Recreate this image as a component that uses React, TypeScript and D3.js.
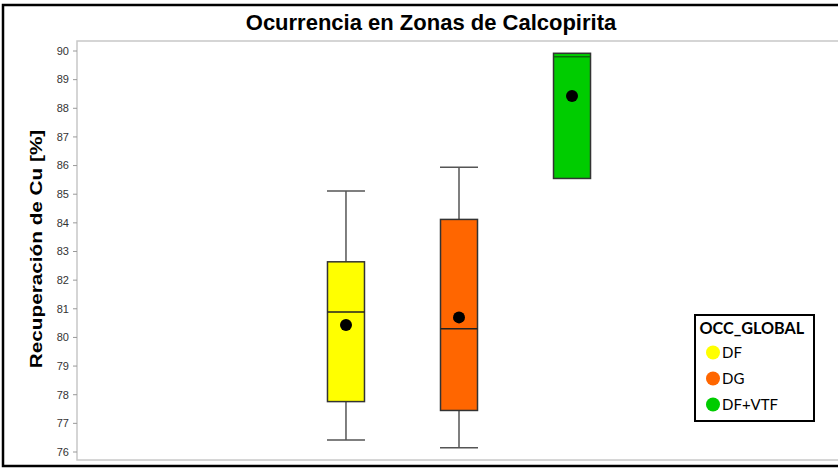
import React from 'react';
import * as d3 from 'd3';

const categories = ['DF', 'DG', 'DF+VTF'];
const colors = ['#FFFF00', '#FF6600', '#00CC00'];
const whiskerLow = [76.42, 76.15, 85.55];
const q1 = [77.76, 77.45, 85.55];
const median = [80.89, 80.3, 89.8];
const q3 = [82.64, 84.12, 89.92];
const whiskerHigh = [85.11, 85.94, 89.92];
const mean = [80.43, 80.7, 88.43];
const yTicks = [76, 77, 78, 79, 80, 81, 82, 83, 84, 85, 86, 87, 88, 89, 90];

const W = 838;
const H = 468;
const plot = { left: 77, top: 41, right: 841, bottom: 460 };

export default function App() {
  const y = d3.scaleLinear().domain([76, 90]).range([452, 51]);
  const x = d3.scalePoint<string>().domain(categories).range([plot.left, plot.right]).padding(2.38);
  const boxW = 37;
  const capW = 38;

  return (
    <div style={{ position: 'fixed', left: 0, top: 0 }}>
      <svg width={W} height={H} style={{ display: 'block', background: '#fff' }}>
        <rect x={3} y={5} width={W + 20} height={461} fill="#fff" stroke="#000" strokeWidth={2.5} />
        <text x={431} y={29.5} textAnchor="middle" fontFamily="Liberation Sans, Arial, sans-serif" fontWeight="bold" fontSize={22} fill="#000">
          Ocurrencia en Zonas de Calcopirita
        </text>
        {/* plot frame */}
        <rect x={plot.left} y={plot.top} width={plot.right - plot.left} height={plot.bottom - plot.top} fill="#fff" stroke="#c8c8c8" strokeWidth={1.5} />
        {/* y axis ticks */}
        {yTicks.map(t => (
          <g key={t}>
            <line x1={plot.left - 4} x2={plot.left} y1={y(t)} y2={y(t)} stroke="#999" />
            <text x={plot.left - 8} y={y(t)} dy="0.35em" textAnchor="end" fontFamily="Liberation Sans, Arial, sans-serif" fontSize={11} fill="#333">
              {t}
            </text>
          </g>
        ))}
        <text
          transform="translate(42.3,249) rotate(-90) scale(1.22,1)"
          textAnchor="middle"
          fontFamily="Liberation Sans, Arial, sans-serif"
          fontWeight="bold"
          fontSize={17}
          fill="#000"
        >
          Recuperación de Cu [%]
        </text>
        {/* boxes */}
        {categories.map((c, i) => {
          const cx = x(c) as number;
          return (
            <g key={c}>
              <line x1={cx} x2={cx} y1={y(whiskerHigh[i])} y2={y(q3[i])} stroke="#555" strokeWidth={1.5} />
              <line x1={cx} x2={cx} y1={y(q1[i])} y2={y(whiskerLow[i])} stroke="#555" strokeWidth={1.5} />
              {whiskerHigh[i] > q3[i] && (
                <line x1={cx - capW / 2} x2={cx + capW / 2} y1={y(whiskerHigh[i])} y2={y(whiskerHigh[i])} stroke="#555" strokeWidth={1.5} />
              )}
              {whiskerLow[i] < q1[i] && (
                <line x1={cx - capW / 2} x2={cx + capW / 2} y1={y(whiskerLow[i])} y2={y(whiskerLow[i])} stroke="#555" strokeWidth={1.5} />
              )}
              <rect x={cx - boxW / 2} y={y(q3[i])} width={boxW} height={y(q1[i]) - y(q3[i])} fill={colors[i]} stroke="#333" strokeWidth={1.5} />
              <line x1={cx - boxW / 2} x2={cx + boxW / 2} y1={y(median[i])} y2={y(median[i])} stroke={i === 2 ? '#0a6a0a' : '#222'} strokeWidth={1.5} />
              <circle cx={cx} cy={y(mean[i])} r={6} fill="#000" />
            </g>
          );
        })}
        {/* legend */}
        <g>
          <rect x={695} y={315} width={119} height={106} fill="#fff" stroke="#000" strokeWidth={2} />
          <text x={699.5} y={334} fontFamily="Lato, Open Sans, sans-serif" fontWeight="bold" fontSize={16.2} fill="#000">
            OCC_GLOBAL
          </text>
          {categories.map((c, i) => (
            <g key={c}>
              <circle cx={713} cy={352.5 + i * 26} r={7} fill={colors[i]} />
              <text x={722} y={352.5 + i * 26} dy="0.35em" fontFamily="Lato, Open Sans, sans-serif" fontSize={15} fill="#000">
                {c}
              </text>
            </g>
          ))}
        </g>
      </svg>
    </div>
  );
}
